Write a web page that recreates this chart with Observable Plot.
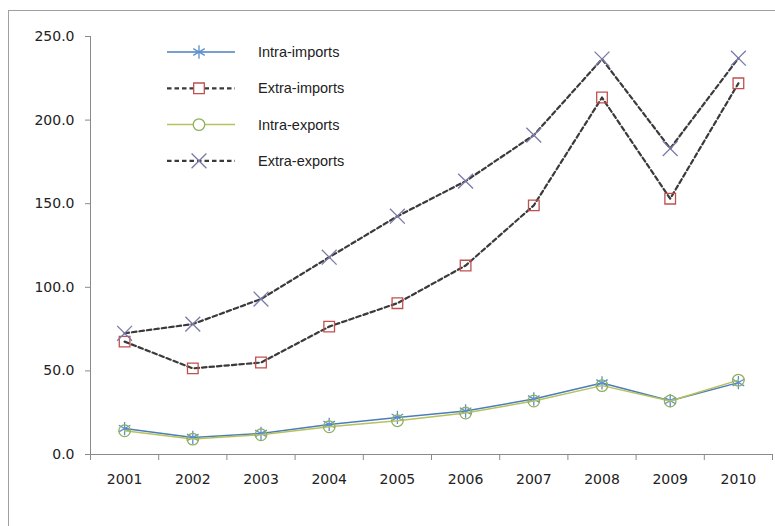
<!DOCTYPE html>
<html>
<head>
<meta charset="utf-8">
<script src="https://cdn.jsdelivr.net/npm/d3@7"></script>
<script src="https://cdn.jsdelivr.net/npm/@observablehq/plot@0.6"></script>
<style>
  html, body { margin: 0; padding: 0; background: #fff; }
  #chart { position: relative; width: 775px; height: 526px; overflow: hidden; }
</style>
</head>
<body>
<div id="chart"></div>
<script>
const years = [2001, 2002, 2003, 2004, 2005, 2006, 2007, 2008, 2009, 2010];
const intraImports = [15.5, 10.2, 12.6, 18.0, 22.2, 26.0, 33.2, 42.8, 32.2, 43.0];
const extraImports = [67.5, 51.5, 55.0, 76.5, 90.5, 113.0, 149.0, 213.5, 153.0, 222.0];
const intraExports = [14.2, 9.2, 11.8, 16.6, 20.2, 24.8, 32.0, 41.2, 32.0, 44.5];
const extraExports = [72.5, 78.0, 93.0, 118.0, 142.5, 163.5, 191.0, 236.5, 183.0, 237.0];
const yTicks = [0, 50, 100, 150, 200, 250];
const seriesNames = ["Intra-imports", "Extra-imports", "Intra-exports", "Extra-exports"];

const styles = {
  "Intra-imports": {line: "#4a7ebb", width: 1.5, dash: null, symbol: "asterisk", mark: "#5b8fd0", r: 6.3},
  "Extra-imports": {line: "#3a3a3a", width: 2.2, dash: "4.5,3", symbol: "square", mark: "#c0504d", r: 6.0},
  "Intra-exports": {line: "#b8c25c", width: 1.5, dash: null, symbol: "circle", mark: "#8fb060", r: 5.8},
  "Extra-exports": {line: "#3a3a3a", width: 2.2, dash: "4.5,3", symbol: "times", mark: "#7a7aa8", r: 6.8}
};
const valuesBySeries = {
  "Intra-imports": intraImports,
  "Extra-imports": extraImports,
  "Intra-exports": intraExports,
  "Extra-exports": extraExports
};
const table = seriesNames.map(s => years.map((yr, i) => ({series: s, year: yr, value: valuesBySeries[s][i]})));

const boundaries = [years[0] - 0.5, ...years.map(y => y + 0.5)];

const marks = [
  Plot.ruleY([0], {stroke: "#8a8a8a", strokeWidth: 1}),
  Plot.ruleX([boundaries[0]], {stroke: "#8a8a8a", strokeWidth: 1}),
  Plot.axisY({ticks: yTicks, tickFormat: d3.format(".1f"), tickSize: 5, tickPadding: 11, stroke: "#8a8a8a", fontSize: 14, fill: "#222", label: null}),
  Plot.axisX({ticks: boundaries, tickFormat: () => "", tickSize: 6, stroke: "#8a8a8a", label: null}),
  Plot.axisX({ticks: years, tickFormat: d => String(d), tickSize: 0, tickPadding: 20, fontSize: 14, fill: "#222", label: null})
];
table.forEach((rows, k) => {
  const st = styles[seriesNames[k]];
  marks.push(Plot.line(rows, {x: "year", y: "value", stroke: st.line, strokeWidth: st.width, strokeDasharray: st.dash}));
  marks.push(Plot.dot(rows, {x: "year", y: "value", symbol: () => st.symbol, r: st.r, stroke: st.mark, strokeWidth: 1.3, fill: "none"}));
});

const plot = Plot.plot({
  width: 775,
  height: 526,
  marginLeft: 90,
  marginRight: 3,
  marginTop: 36,
  marginBottom: 72,
  style: {fontFamily: "DejaVu Sans", background: "#fff"},
  x: {type: "linear", domain: [boundaries[0], boundaries[boundaries.length - 1]], label: null},
  y: {domain: [0, 250], label: null},
  marks
});

// outer chart-area border
const svg = d3.select(plot);
svg.insert("rect", ":first-child")
  .attr("x", 8.5).attr("y", 10.5).attr("width", 800).attr("height", 600)
  .attr("fill", "#fff").attr("stroke", "#a0a0a0").attr("stroke-width", 1);

// legend
const symMap = {
  asterisk: d3.symbolAsterisk, square: d3.symbolSquare, circle: d3.symbolCircle, times: d3.symbolTimes
};
const lg = svg.append("g")
  .attr("font-family", "Liberation Sans, Arial, sans-serif")
  .attr("font-size", 14.5).attr("fill", "#222").attr("text-anchor", "start");
seriesNames.forEach((name, i) => {
  const st = styles[name];
  const cy = 52 + i * 36.3;
  const g = lg.append("g").attr("transform", `translate(0,${cy})`);
  g.append("line").attr("x1", 167).attr("x2", 235).attr("y1", 0).attr("y2", 0)
    .attr("stroke", st.line).attr("stroke-width", st.width)
    .attr("stroke-dasharray", st.dash);
  g.append("path")
    .attr("transform", "translate(199,0)")
    .attr("d", d3.symbol(symMap[st.symbol], st.r * st.r * Math.PI)())
    .attr("fill", "#fff").attr("stroke", st.mark).attr("stroke-width", 1.3);
  g.append("text").attr("x", 258).attr("y", 0).attr("dy", "0.35em")
    .attr("text-anchor", "start").text(name);
});

document.getElementById("chart").appendChild(plot);
</script>
</body>
</html>
